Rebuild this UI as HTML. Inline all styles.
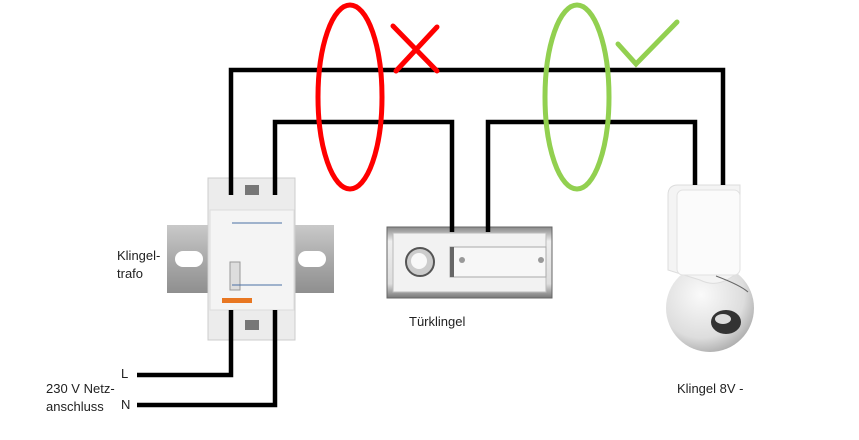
<!DOCTYPE html>
<html><head><meta charset="utf-8"><style>
body{margin:0;background:#fff;}
svg{display:block;font-family:"Liberation Sans",sans-serif;}
</style></head><body>
<svg width="859" height="440" viewBox="0 0 859 440">
<defs>
<linearGradient id="rail" x1="0" y1="0" x2="0" y2="1">
<stop offset="0" stop-color="#c9c9c9"/><stop offset="0.5" stop-color="#aaa"/><stop offset="1" stop-color="#8f8f8f"/></linearGradient>
<linearGradient id="chrome" x1="0" y1="0" x2="0" y2="1">
<stop offset="0" stop-color="#888"/><stop offset="0.2" stop-color="#eee"/><stop offset="0.8" stop-color="#ddd"/><stop offset="1" stop-color="#777"/></linearGradient>
<radialGradient id="sph" cx="0.4" cy="0.35" r="0.7">
<stop offset="0" stop-color="#fafafa"/><stop offset="0.7" stop-color="#ddd"/><stop offset="1" stop-color="#aaa"/></radialGradient>
</defs>
<rect x="167" y="225" width="167" height="68" fill="url(#rail)"/>
<rect x="175" y="251" width="28" height="16" rx="8" fill="#fff"/>
<rect x="298" y="251" width="28" height="16" rx="8" fill="#fff"/>
<rect x="208" y="178" width="87" height="162" fill="#ececec" stroke="#ccc"/>
<rect x="210" y="210" width="84" height="100" fill="#f4f4f4" stroke="#ddd"/>
<rect x="245" y="185" width="14" height="10" fill="#777"/>
<rect x="245" y="320" width="14" height="10" fill="#777"/>
<rect x="230" y="262" width="10" height="28" fill="#ddd" stroke="#999"/>
<rect x="222" y="298" width="30" height="5" fill="#e87722"/>
<line x1="232" y1="223" x2="282" y2="223" stroke="#4a6fa5" stroke-width="1"/>
<line x1="232" y1="285" x2="282" y2="285" stroke="#4a6fa5" stroke-width="1"/>
<rect x="387" y="227" width="165" height="71" fill="url(#chrome)" stroke="#666"/>
<rect x="393" y="233" width="153" height="59" fill="#f2f2f2" stroke="#bbb"/>
<circle cx="420" cy="262" r="14" fill="#ccc" stroke="#555" stroke-width="2"/>
<circle cx="419" cy="261" r="8" fill="#f8f8f8"/>
<rect x="450" y="247" width="96" height="30" fill="#f7f7f7" stroke="#aaa"/>
<rect x="450" y="247" width="4" height="30" fill="#666"/>
<circle cx="462" cy="260" r="3" fill="#999"/><circle cx="541" cy="260" r="3" fill="#999"/>
<circle cx="710" cy="308" r="44" fill="url(#sph)"/>
<path d="M668 270 L668 195 Q668 185 678 185 L740 185 L740 270 Q720 290 700 280 Z" fill="#f4f4f4" stroke="#ddd"/>
<rect x="677" y="190" width="63" height="85" rx="6" fill="#fbfbfb" stroke="#e2e2e2"/>
<ellipse cx="726" cy="322" rx="15" ry="12" fill="#333"/>
<ellipse cx="723" cy="319" rx="8" ry="5" fill="#ddd"/>
<path d="M716 276 Q740 285 748 292" stroke="#666" fill="none"/>
<g stroke="#000" stroke-width="4.5" fill="none" stroke-linejoin="miter">
<polyline points="231,195 231,70 723,70 723,185"/>
<polyline points="275,195 275,122 452,122 452,232"/>
<polyline points="488,232 488,122 695,122 695,185"/>
<polyline points="137,375 231,375 231,310"/>
<polyline points="137,405 275,405 275,310"/>
</g>
<ellipse cx="350" cy="97" rx="32" ry="92" stroke="#ff0000" stroke-width="5" fill="none"/>
<g stroke="#ff0000" stroke-width="5" stroke-linecap="round"><line x1="393" y1="26" x2="437" y2="71"/><line x1="437" y1="27" x2="396" y2="71"/></g>
<ellipse cx="577" cy="97" rx="32" ry="92" stroke="#92d050" stroke-width="5" fill="none"/>
<polyline points="618,44 636,64 677,22" stroke="#92d050" stroke-width="5" fill="none" stroke-linecap="round"/>
<g font-size="13" fill="#222">
<text x="117" y="260">Klingel-</text>
<text x="117" y="278">trafo</text>
<text x="409" y="326">Türklingel</text>
<text x="677" y="393">Klingel  8V -</text>
<text x="121" y="378">L</text>
<text x="121" y="409">N</text>
<text x="46" y="393">230 V Netz-</text>
<text x="46" y="411">anschluss</text>
</g>
</svg>
</body></html>
